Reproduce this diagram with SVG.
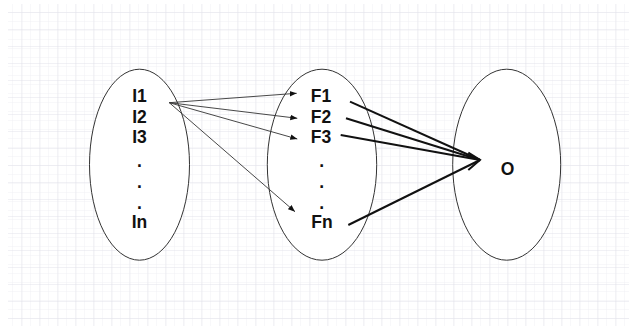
<svg xmlns="http://www.w3.org/2000/svg" width="629" height="326" viewBox="0 0 629 326">
<style>
.node ellipse{fill:#fff;stroke:#333;stroke-width:1}
.lbl{font-family:"Liberation Sans",Arial,sans-serif;font-weight:bold;font-size:17.5px;fill:#111;text-anchor:middle}
.thin{stroke:#333;stroke-width:0.9;fill:none}
.thick{stroke:#111;stroke-width:2;fill:none}
</style>
<defs>
<pattern id="minor" x="4" y="4" width="9" height="9" patternUnits="userSpaceOnUse">
<path d="M9 0V9M0 9H9" stroke="#f1f1f5" stroke-width="1" fill="none"/>
</pattern>
<pattern id="major" x="4.5" y="-4" width="18" height="17" patternUnits="userSpaceOnUse">
<path d="M18 0V17M0 17H18" stroke="#e2e2ea" stroke-width="1" fill="none"/>
</pattern>
<marker id="tri" viewBox="0 0 10 10" refX="10" refY="5" markerWidth="7" markerHeight="7" markerUnits="userSpaceOnUse" orient="auto">
<path d="M0 1L10 5L0 9Z" fill="#111"/>
</marker>
</defs>
<rect width="629" height="326" fill="#fff"/>
<rect x="8" y="4" width="621" height="322" fill="url(#minor)"/>
<rect x="8" y="4" width="621" height="322" fill="url(#major)"/>
<g id="node-inputs" class="node">
<ellipse cx="139.5" cy="164.7" rx="50" ry="95.5"/>
<text class="lbl" x="139.5" y="101.7">I1</text>
<text class="lbl" x="139.5" y="122.7">I2</text>
<text class="lbl" x="139.5" y="143.3">I3</text>
<text class="lbl" x="139.5" y="167">.</text>
<text class="lbl" x="139.5" y="188">.</text>
<text class="lbl" x="139.5" y="208.5">.</text>
<text class="lbl" x="139.5" y="228.3">In</text>
</g>
<g id="node-features" class="node">
<ellipse cx="322" cy="164.7" rx="54.7" ry="95.5"/>
<text class="lbl" x="321" y="101.7">F1</text>
<text class="lbl" x="321" y="122.7">F2</text>
<text class="lbl" x="321" y="143.3">F3</text>
<text class="lbl" x="321.7" y="167">.</text>
<text class="lbl" x="321.7" y="188">.</text>
<text class="lbl" x="321.7" y="208.5">.</text>
<text class="lbl" x="322" y="228.3">Fn</text>
</g>
<g id="node-output" class="node">
<ellipse cx="506.7" cy="164.7" rx="54" ry="95.5"/>
<text class="lbl" x="507.5" y="175">O</text>
</g>
<g id="connectors">
<line class="thin" x1="169.3" y1="102.7" x2="296.7" y2="93.3" marker-end="url(#tri)"/>
<line class="thin" x1="169.3" y1="102.7" x2="297.3" y2="118.3" marker-end="url(#tri)"/>
<line class="thin" x1="169.3" y1="102.7" x2="297.3" y2="139" marker-end="url(#tri)"/>
<line class="thin" x1="169.3" y1="102.7" x2="295" y2="211.7" marker-end="url(#tri)"/>
<line class="thick" x1="350" y1="101.7" x2="480" y2="160"/>
<line class="thick" x1="346" y1="118.3" x2="480" y2="160"/>
<line class="thick" x1="340.7" y1="135" x2="480" y2="160"/>
<line class="thick" x1="348.3" y1="225" x2="480" y2="160"/>
<path class="thick" d="M468.3 152.7L480 160L468.3 170"/>
</g>
</svg>
